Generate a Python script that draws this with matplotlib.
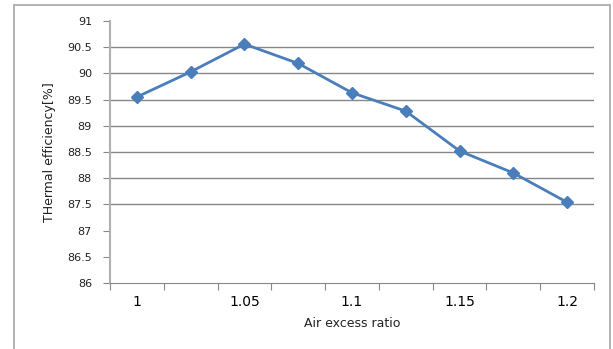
import matplotlib
matplotlib.use('Agg')
import matplotlib.pyplot as plt
from matplotlib.patches import Rectangle

# Data
air_ratio = ['1', '1.025', '1.05', '1.075', '1.1', '1.125', '1.15', '1.175', '1.2']
efficiency = [89.55, 90.03, 90.56, 90.19, 89.63, 89.28, 88.52, 88.10, 87.54]
y_ticks = [86, 86.5, 87, 87.5, 88, 88.5, 89, 89.5, 90, 90.5, 91]
# the reference only shows gridlines over this band
grid_vals = [87.5, 88, 88.5, 89, 89.5, 90, 90.5]

plt.rcParams['font.family'] = ['DejaVu Sans']

fig = plt.figure(figsize=(6.13, 3.49), dpi=100)
ax = fig.add_axes([110/613, 1 - 283/349, 484/613, 262/349])

# outer chart frame (runs off the bottom of the image)
fig.patches.append(Rectangle((14/613, -0.05), 596/613, 1.05 - 5/349,
                             transform=fig.transFigure, fill=False,
                             edgecolor='#a6a6a6', linewidth=1.2))

x = list(range(len(air_ratio)))
for g in grid_vals:
    ax.axhline(g, color='#878787', linewidth=1, zorder=1)
ax.plot(x, efficiency, color='#4a7ebb', linewidth=2, marker='D',
        markersize=6, markerfacecolor='#4a7ebb', markeredgecolor='#4a7ebb',
        zorder=3)

ax.set_xlim(-0.5, len(air_ratio) - 0.5)
ax.set_ylim(86, 91)
ax.set_yticks(y_ticks)
ax.set_yticklabels([f'{t:g}' for t in y_ticks])

# category axis: tick marks between categories, labels on every other one
ax.set_xticks([i - 0.5 for i in range(len(air_ratio) + 1)])
ax.set_xticklabels([])
ax.set_xticks(x[::2], minor=True)
ax.set_xticklabels(air_ratio[::2], minor=True)
ax.tick_params(axis='x', which='minor', length=0, pad=9)
ax.tick_params(axis='x', which='major', length=5, color='#878787')
ax.tick_params(axis='y', length=5, color='#878787', pad=8)
ax.tick_params(labelsize=8, labelcolor='#222222')

for side in ['top', 'right']:
    ax.spines[side].set_visible(False)
ax.spines['left'].set_color('#b0b0b0')
ax.spines['left'].set_linewidth(1.5)
ax.spines['bottom'].set_color('#878787')

ax.set_xlabel('Air excess ratio', fontsize=9, color='#222222')
ax.set_ylabel('THermal efficiency[%]', fontsize=9, color='#222222')
ax.xaxis.set_label_coords(0.5, -0.13)
ax.yaxis.set_label_coords(-0.112, 0.5)

fig.savefig('out.png', dpi=100)
